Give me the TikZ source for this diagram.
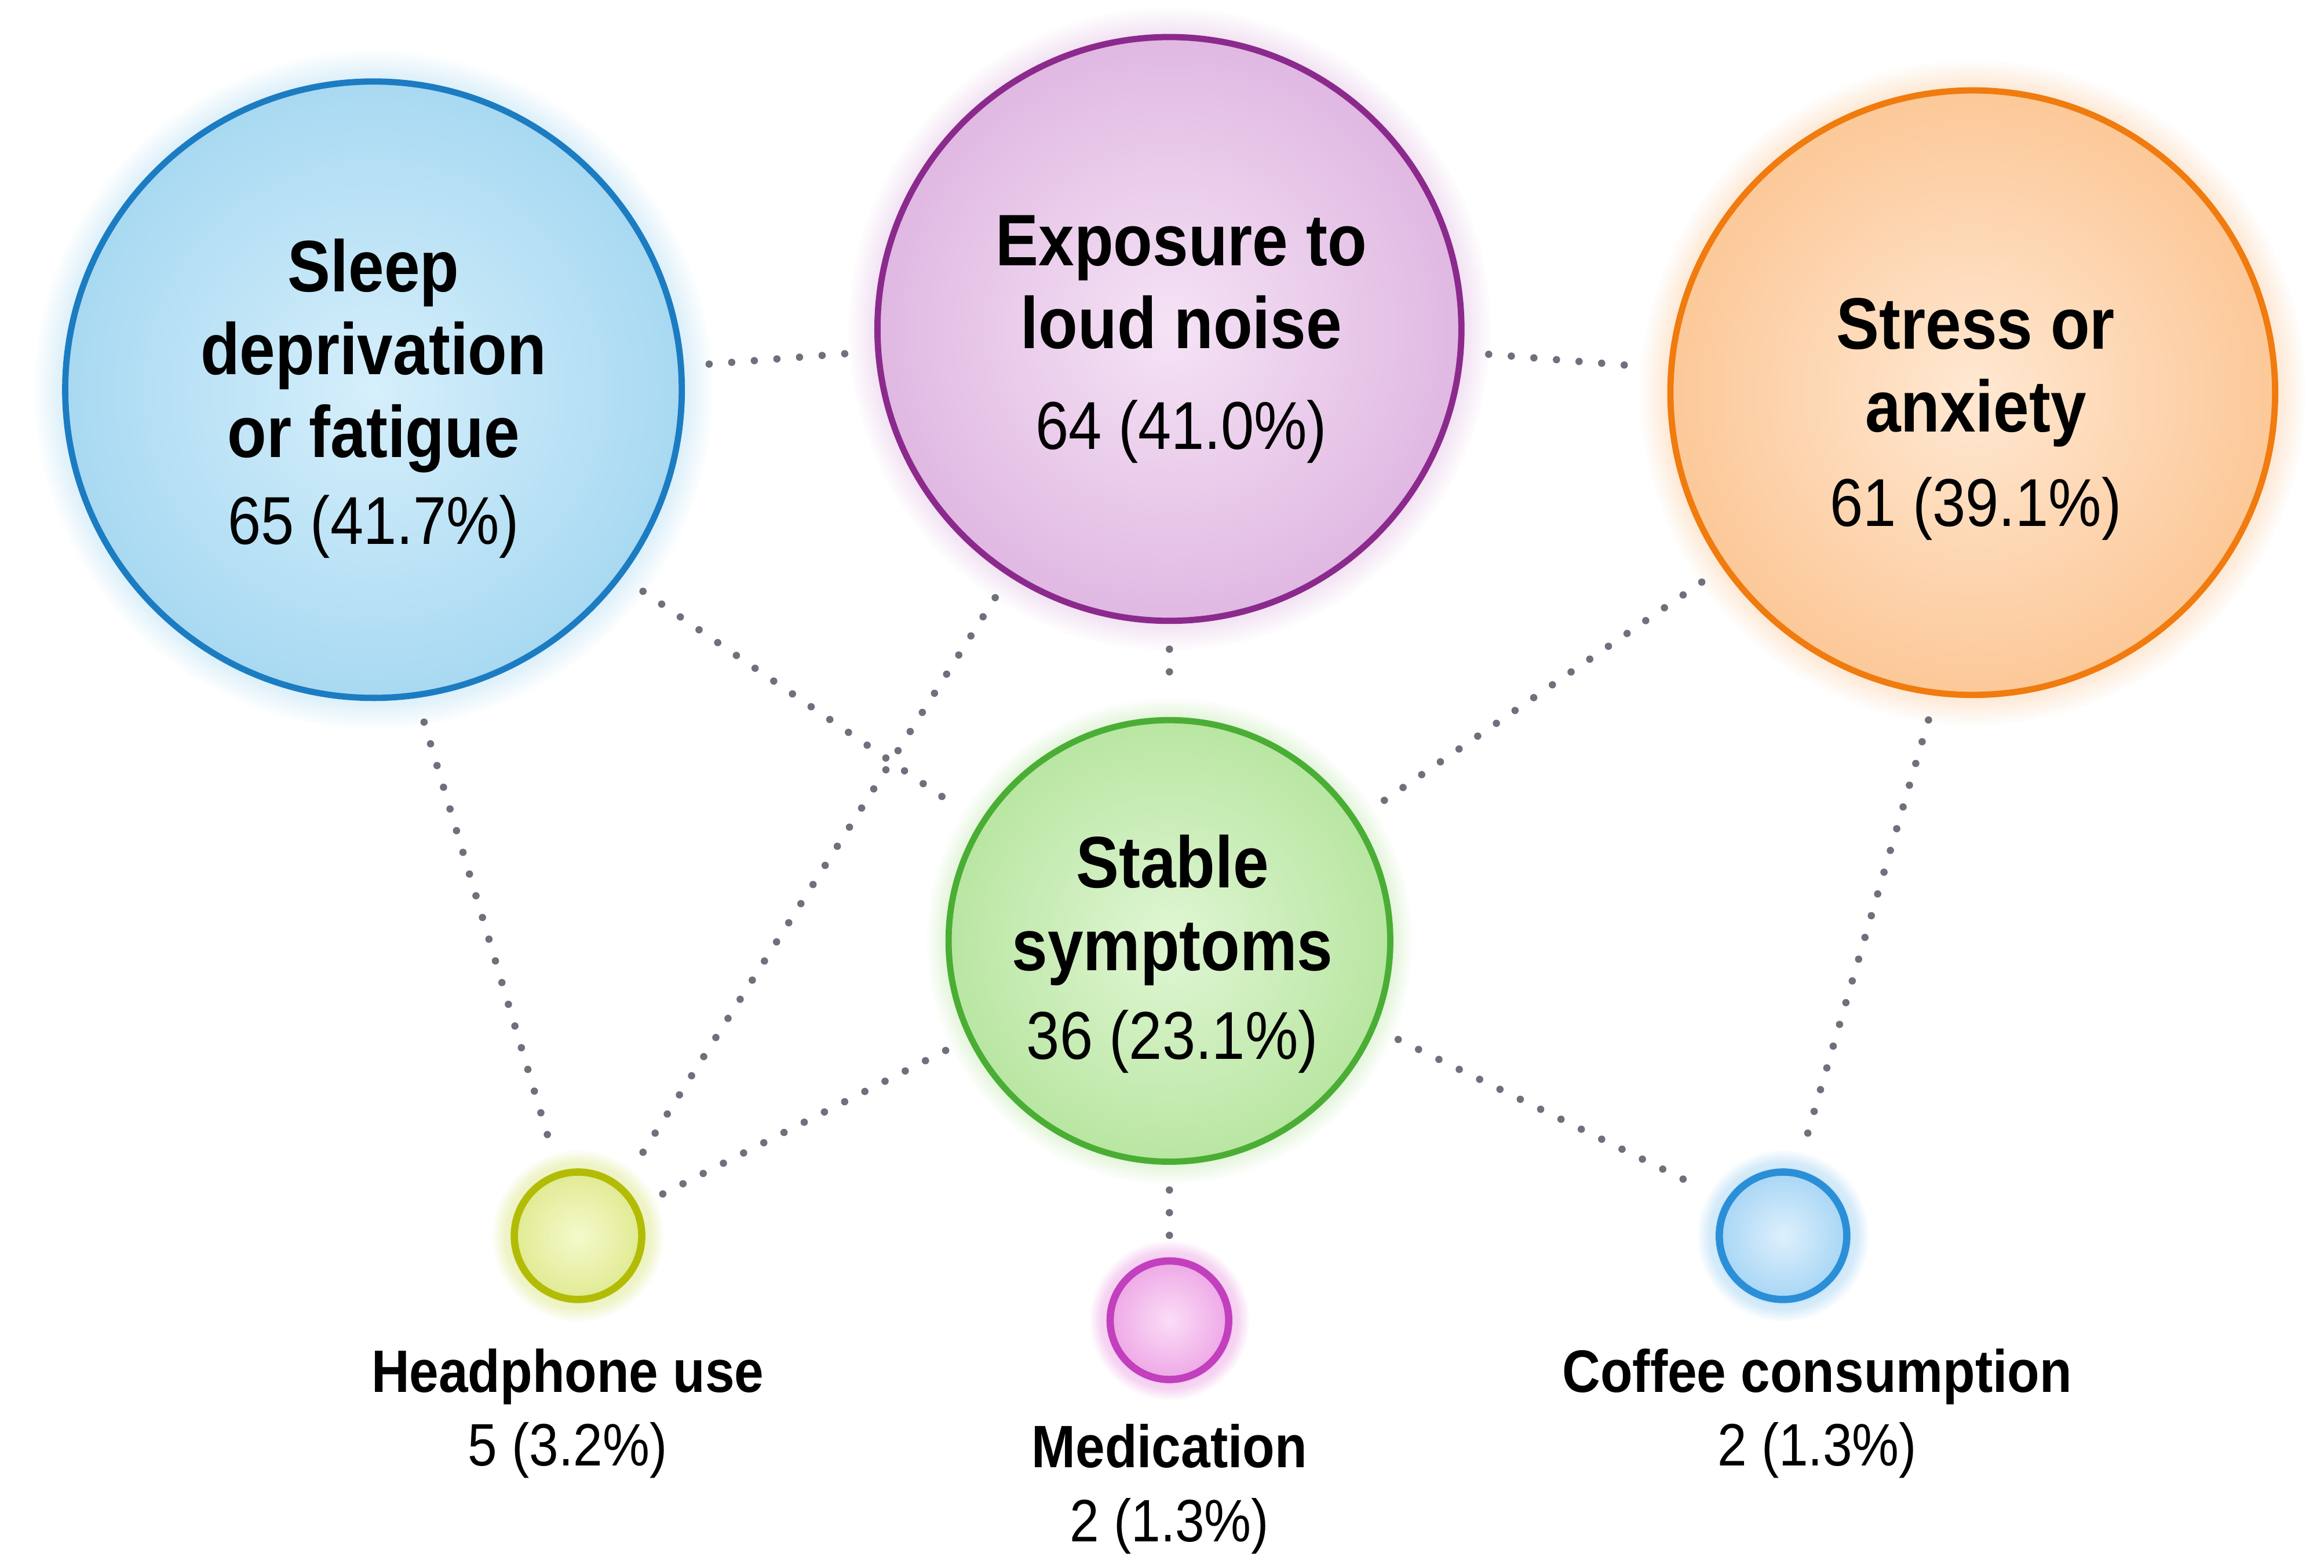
\documentclass[tikz,border=0pt]{standalone}
\usepackage{fontspec}
\setmainfont{Liberation Sans}[FakeStretch=0.88]
\usetikzlibrary{positioning,shadows,fadings}

\definecolor{sleepline}{HTML}{1C7CC2}
\definecolor{sleepin}{HTML}{D6EFFB}
\definecolor{sleepout}{HTML}{A8D9F2}
\definecolor{expoline}{HTML}{8B2A8C}
\definecolor{expoin}{HTML}{F5E3F5}
\definecolor{expoout}{HTML}{E0B8E2}
\definecolor{stressline}{HTML}{F07B0E}
\definecolor{stressin}{HTML}{FFE8D2}
\definecolor{stressout}{HTML}{FCC898}
\definecolor{stableline}{HTML}{4AAE35}
\definecolor{stablein}{HTML}{E0F6D4}
\definecolor{stableout}{HTML}{B9E6A2}
\definecolor{headline}{HTML}{B3BC05}
\definecolor{headin}{HTML}{F5F9CC}
\definecolor{headout}{HTML}{E0EB92}
\definecolor{medline}{HTML}{C23FBE}
\definecolor{medin}{HTML}{FBDDF7}
\definecolor{medout}{HTML}{EEA8E6}
\definecolor{coffeeline}{HTML}{2B8FD8}
\definecolor{coffeein}{HTML}{DDF0FD}
\definecolor{coffeeout}{HTML}{A8D6F5}
\definecolor{dotgray}{HTML}{6E707C}

\newcommand{\bubnum}[1]{{\mdseries\fontsize{13}{15.9}\selectfont #1}}

\tikzset{
    bubble/.style 2 args={circle, inner sep=0pt, minimum size=#2,
        draw=#1line, line width=1.2pt, inner color=#1in, outer color=#1out,
        circular glow={fill=#1out, shadow scale=1.1, opacity=0.7}},
    dotbubble/.style={bubble={#1}{0.86cm}, line width=1.4pt,
        circular glow={fill=#1out, shadow scale=1.35, opacity=0.5}},
    bigtxt/.style={align=center, inner sep=0pt,
        font=\fontsize{14}{15.9}\selectfont\bfseries},
    smalltxt/.style={align=center, inner sep=0pt,
        font=\fontsize{11.5}{14.2}\selectfont\bfseries},
    link/.style={draw=dotgray, line width=1.4pt, line cap=round,
        dash pattern=on 0pt off 4.35pt, shorten <=0.17cm, shorten >=0.17cm}
}

\begin{document}
\begin{tikzpicture}
    \fill[white] (0,0) rectangle (15.68,10.58);
    \useasboundingbox (0,0) rectangle (15.68,10.58);

    % causes
    \node[bubble={sleep}{4.16cm}]  (sleep)  at (2.52,7.95) {};
    \node[bubble={expo}{3.94cm}]   (expo)   at (7.89,8.36) {};
    \node[bubble={stress}{4.08cm}] (stress) at (13.31,7.93) {};
    \node[bubble={stable}{2.98cm}] (stable) at (7.89,4.23) {};

    % minor ones
    \node[dotbubble=head]   (head)   at (3.90,2.24) {};
    \node[dotbubble=med, minimum size=0.80cm] (med) at (7.89,1.67) {};
    \node[dotbubble=coffee] (coffee) at (12.03,2.24) {};

    \node[bigtxt] (sleep-t) at ([shift={(0,-0.06)}]sleep.center)
        {Sleep\\deprivation\\or fatigue\\[0.03cm]\bubnum{65 (41.7\%)}};
    \node[bigtxt] (expo-t) at ([shift={(0.08,-0.07)}]expo.center)
        {Exposure to\\loud noise\\[0.12cm]\bubnum{64 (41.0\%)}};
    \node[bigtxt] (stress-t) at ([shift={(0.02,-0.18)}]stress.center)
        {Stress or\\anxiety\\[0.08cm]\bubnum{61 (39.1\%)}};
    \node[bigtxt] (stable-t) at ([shift={(0.02,-0.09)}]stable.center)
        {Stable\\symptoms\\[0.04cm]\bubnum{36 (23.1\%)}};

    \node[smalltxt, below=0.30cm of head, xshift=-0.07cm] (head-t)
        {Headphone use\\{\mdseries 5 (3.2\%)}};
    \node[smalltxt, below=0.27cm of med] (med-t)
        {Medication\\{\mdseries 2 (1.3\%)}};
    \node[smalltxt, below=0.30cm of coffee, xshift=0.23cm] (coffee-t)
        {Coffee consumption\\{\mdseries 2 (1.3\%)}};

    % dotted links
    \foreach \a/\b in {sleep/expo, expo/stress, expo/stable,
        sleep.-37/stable.148, expo.-123/head.49, stress.-145/stable.33,
        sleep.-82/head.107, stable.-154/head.26, stable.-23/coffee.148,
        stress.-97.5/coffee.78}
        \draw[link] (\a) -- (\b);
    \draw[link, shorten >=0.13cm] (stable) -- (med);
\end{tikzpicture}
\end{document}
